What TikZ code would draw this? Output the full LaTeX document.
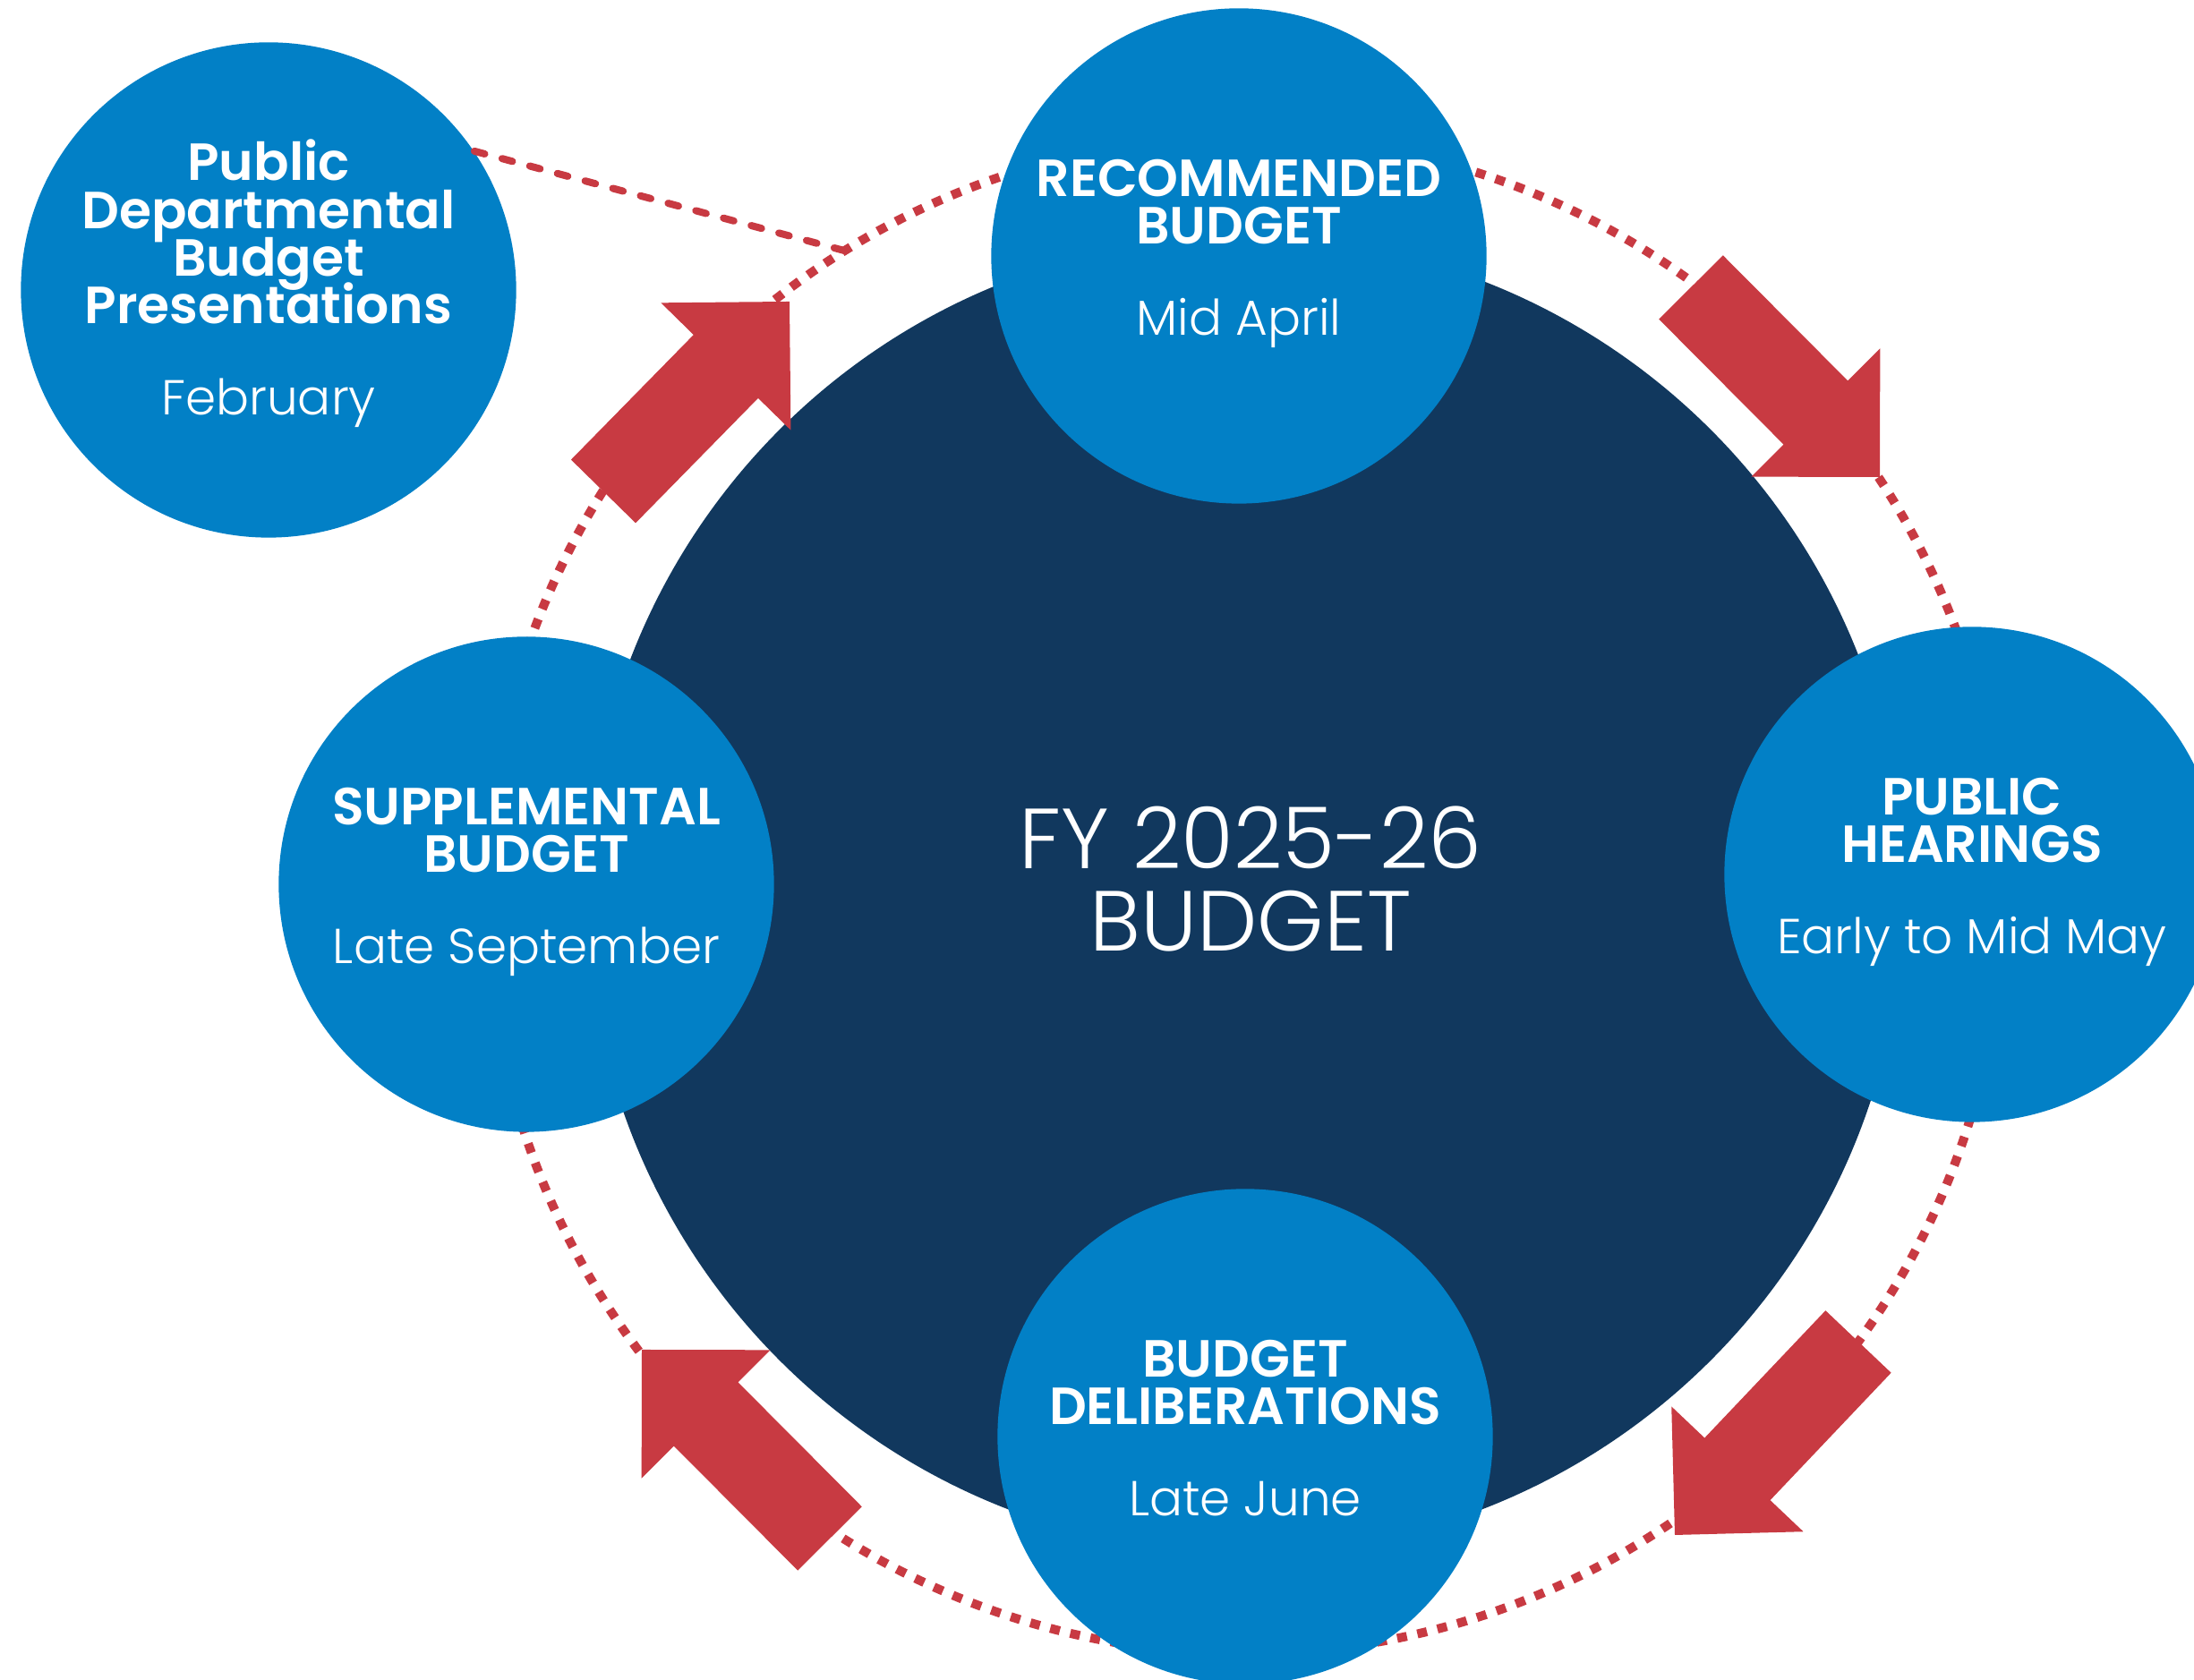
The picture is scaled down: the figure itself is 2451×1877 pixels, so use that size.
\documentclass[tikz,border=0pt]{standalone}
\usepackage{fontspec}
\setmainfont{Poppins}
\newfontfamily\lightfont{Poppins Light}
\newfontfamily\headfont{Poppins SemiBold}
\newcommand\tightlines{\lineskiplimit=-20pt\relax}
\usetikzlibrary{calc}
\definecolor{navy}{HTML}{11385E}
\definecolor{stageblue}{HTML}{0280C6}
\definecolor{arrowred}{HTML}{C83A42}
\begin{document}
\begin{tikzpicture}
    [x=0.01cm, y=0.01cm,
     core/.style={circle, fill=navy, minimum size=14.7cm, inner sep=0pt},
     phase/.style={circle, fill=stageblue, minimum size=5.53cm, inner sep=0pt},
     headtxt/.style={text=white, align=center, inner sep=0pt, anchor=base, font=\headfont\fontsize{16.6}{15.2}\selectfont\tightlines},
     datetxt/.style={text=white, inner sep=0pt, anchor=base, font=\lightfont\fontsize{15.6}{18}\selectfont},
     ring/.style={draw=arrowred, line width=0.1cm, dash pattern=on 0.11cm off 0.12cm},
     link/.style={draw=arrowred, line width=0.08cm, line cap=round, dash pattern=on 0.12cm off 0.2cm},
     flow/.style={fill=arrowred, to path={
        -- ($(\tikztostart)!0.505cm!90:(\tikztotarget)$)
        -- ($(\tikztotarget)!1.015cm!(\tikztostart)!0.505cm!-90:(\tikztostart)$)
        -- ($(\tikztotarget)!1.015cm!(\tikztostart)!1.015cm!-90:(\tikztostart)$)
        -- (\tikztotarget)
        -- ($(\tikztotarget)!1.015cm!(\tikztostart)!1.015cm!90:(\tikztostart)$)
        -- ($(\tikztotarget)!1.015cm!(\tikztostart)!0.505cm!90:(\tikztostart)$)
        -- ($(\tikztostart)!0.505cm!-90:(\tikztotarget)$) -- cycle}}]
    \useasboundingbox (0,0) rectangle (2451,1877);
    \clip (0,0) rectangle (2451,1877);
    % Define nodes
    \coordinate (mid) at (1391,877);
    \coordinate (junc) at (943,1597);
    \draw[ring] (mid) circle [radius=8.47cm];
    \node[core] (fy) at (mid) {};
    \node[text=white, align=center, inner sep=0pt, anchor=base, font=\lightfont\fontsize{27.1}{26.2}\selectfont] (fy-t) at (1397,814) {FY 2025-26\\BUDGET};
    \coordinate (ne-tail) at (1889,1556);
    \coordinate (ne-tip) at (2100,1344);
    \coordinate (se-tail) at (2076,378);
    \coordinate (se-tip) at (1871,162);
    \coordinate (sw-tail) at (927,158);
    \coordinate (sw-tip) at (717,369);
    \coordinate (nw-tail) at (674,1328);
    \coordinate (nw-tip) at (882,1540);
    \node[phase] (rec) at (1384,1591) {};
    \node[headtxt] (rec-t) at (1384,1604) {RECOMMENDED\\BUDGET};
    \node[datetxt] (rec-d) at (1384,1502) {Mid April};
    \node[phase] (hear) at (2203,900) {};
    \node[headtxt] (hear-t) at (2203,913) {PUBLIC\\HEARINGS};
    \node[datetxt] (hear-d) at (2203,811) {Early to Mid May};
    \node[phase] (delib) at (1391,272) {};
    \node[headtxt] (delib-t) at (1391,285) {BUDGET\\DELIBERATIONS};
    \node[datetxt] (delib-d) at (1391,183) {Late June};
    \node[phase] (supp) at (588,889) {};
    \node[headtxt] (supp-t) at (588,902) {SUPPLEMENTAL\\BUDGET};
    \node[datetxt] (supp-d) at (588,800) {Late September};
    \node[phase] (pdb) at (300,1553) {};
    \node[headtxt] (pdb-t) at (300,1515) {Public\\Departmental\\Budget\\Presentations};
    \node[datetxt] (pdb-d) at (300,1413) {February};
    % Define edges
    \draw[link] (pdb.34) -- (junc);
    \path[flow] (ne-tail) to (ne-tip);
    \path[flow] (se-tail) to (se-tip);
    \path[flow] (sw-tail) to (sw-tip);
    \path[flow] (nw-tail) to (nw-tip);
\end{tikzpicture}
\end{document}
